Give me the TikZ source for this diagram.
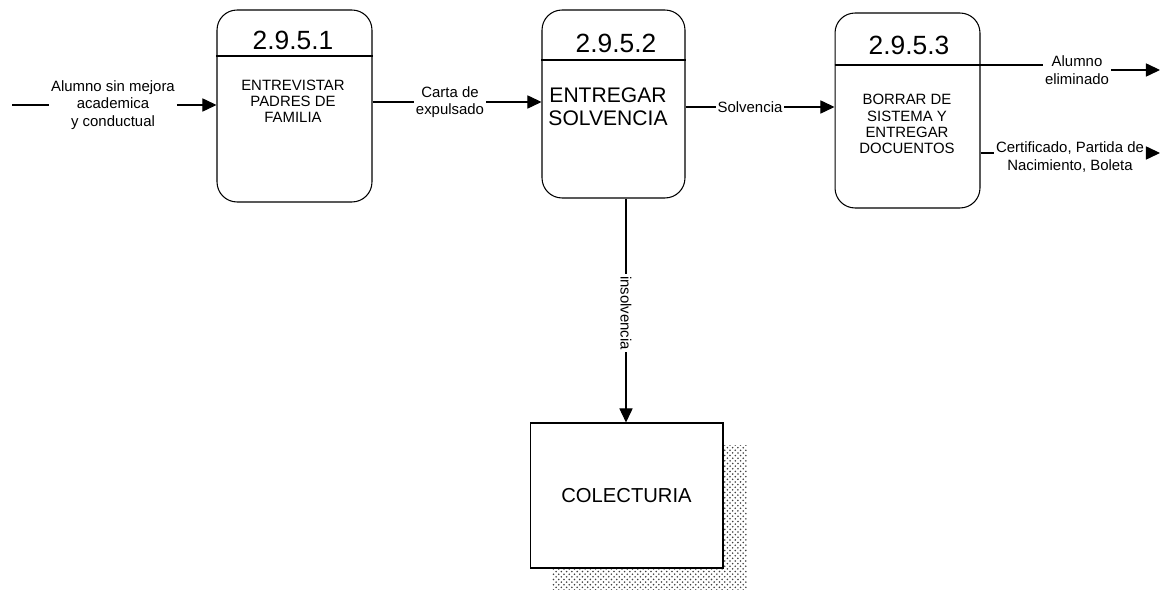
\documentclass[tikz,border=0pt]{standalone}
\usepackage{fontspec}
\setmainfont{Liberation Sans}
\usepackage{tikz}
\usetikzlibrary{positioning,arrows.meta,calc,patterns,backgrounds}

\begin{document}
\begin{tikzpicture}[x=0.02cm, y=-0.02cm,
    every node/.style={font=\fontsize{8.5}{10}\selectfont, inner sep=1pt},
    proc/.style={draw, rounded corners=0.4cm, line width=0.6pt, inner sep=0pt},
    num/.style={font=\fontsize{15}{17}\selectfont},
    ptxt/.style={align=center, font=\fontsize{8.5}{9.2}\selectfont},
    lbl/.style={align=center, inner sep=1pt},
    store/.style={draw, fill=white, line width=0.6pt, minimum width=3.86cm,
                  minimum height=2.9cm, font=\fontsize{11.5}{13}\selectfont},
    arr/.style={-{Triangle[length=8pt,width=7.5pt]}, line width=0.6pt},
    ln/.style={line width=0.6pt}]
  \useasboundingbox (0,0) rectangle (1162,590);
  % procesos
  \node[proc, minimum width=3.1cm, minimum height=3.84cm] (p1) at (294.5,106) {};
  \node[proc, minimum width=2.86cm, minimum height=3.76cm] (p2) at (613.5,104) {};
  \node[proc, minimum width=2.9cm, minimum height=3.9cm] (p3) at (907.5,110.5) {};
  \node[num] (n1) at (293,40) {2.9.5.1};
  \node[num] (n2) at (616,43) {2.9.5.2};
  \node[num] (n3) at (909,45) {2.9.5.3};
  \draw[ln] (p1.west |- 0,56) -- (p1.east |- 0,56);
  \draw[ln] (p2.west |- 0,60) -- (p2.east |- 0,60);
  \draw[ln] (p3.west |- 0,65) -- (p3.east |- 0,65);
  \node[ptxt] (t1) at (293,101) {ENTREVISTAR\\PADRES DE\\FAMILIA};
  \node[ptxt, font=\fontsize{12}{13}\selectfont] (t2) at (608,106.5) {ENTREGAR\\SOLVENCIA};
  \node[ptxt] (t3) at (907,124) {BORRAR DE\\SISTEMA Y\\ENTREGAR\\DOCUENTOS};
  % almacen
  \node[store] (colect) at (626.5,495.5) {COLECTURIA};
  \begin{pgfonlayer}{background}
    \path[pattern=crosshatch dots, pattern color=black!75]
      ($(colect.north west)+(23,23)$) rectangle ($(colect.south east)+(23,23)$);
  \end{pgfonlayer}
  % flujos
  \coordinate (src) at (12,105);
  \coordinate (o1) at (1160,70);
  \coordinate (o2) at (1160,153);
  \node[lbl] (l0) at (113,105) {Alumno sin mejora\\academica\\y conductual};
  \node[lbl] (l1) at (450,102) {Carta de\\expulsado};
  \node[lbl] (l2) at (750,107) {Solvencia};
  \node[lbl] (l3) at (1077,70) {Alumno\\eliminado};
  \node[lbl] (l4) at (1070,157) {Certificado, Partida de\\Nacimiento, Boleta};
  \node[lbl, rotate=-90] (l5) at (626,313) {insolvencia};
  \draw[ln] (src) -- (l0.west);
  \draw[arr] (l0.east) -- (p1.west |- l0.east);
  \draw[ln] (p1.east |- l1) -- (l1.west);
  \draw[arr] (l1.east) -- (p2.west |- l1);
  \draw[ln] (p2.east |- l2) -- (l2.west);
  \draw[arr] (l2.east) -- (p3.west |- l2);
  \draw[ln] (p3.east |- 0,65) -- (l3.west |- 0,65);
  \draw[arr] (l3.east) -- (o1);
  \draw[ln] (p3.east |- o2) -- (l4.west |- o2);
  \draw[arr] (l4.east |- o2) -- (o2);
  \draw[ln] (p2.south -| l5) -- (l5.west);
  \draw[arr] (l5.east) -- (colect.north -| l5);
\end{tikzpicture}
\end{document}
